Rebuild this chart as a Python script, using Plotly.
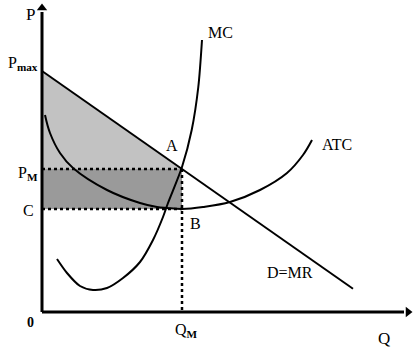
import plotly.graph_objects as go

# Data (economic units, arbitrary scale)
P_MAX = 241
D_SLOPE = 0.7
Q_M = 140
P_M = 143
C_LEVEL = 103
D_Q = [0, 311]
D_P = [P_MAX, P_MAX - D_SLOPE * 311]

ATC_Q = [3, 8, 18, 31, 65, 98, 115, 125, 140, 161, 188, 218, 245, 261, 270]
ATC_P = [197, 179, 159, 144, 122, 109, 105, 104, 103, 105, 110, 122, 139, 157, 172]

MC_Q = [15, 25, 38, 51, 65, 81, 98, 111, 121, 126, 140, 149.7, 156.3, 160]
MC_P = [53, 39, 26, 22, 24, 34, 50, 72, 95, 109, 145, 182, 225, 272]

X_AXIS_END = 366
Y_AXIS_END = 304

SERIF = "Liberation Serif, Times New Roman, serif"

fig = go.Figure()

# Light triangle
fig.add_trace(go.Scatter(x=[0, Q_M, 0, 0], y=[P_MAX, P_M, P_M, P_MAX], fill="toself",
                         fillcolor="#c2c2c2", line=dict(width=0), mode="lines", hoverinfo="skip"))
# Profit rectangle
fig.add_trace(go.Scatter(x=[0, Q_M, Q_M, 0, 0], y=[P_M, P_M, C_LEVEL, C_LEVEL, P_M], fill="toself",
                         fillcolor="#9a9a9a", line=dict(width=0), mode="lines", hoverinfo="skip"))

# Dotted guide lines
dot = dict(color="black", width=2.5, dash="dot")
fig.add_trace(go.Scatter(x=[0, Q_M], y=[P_M, P_M], mode="lines", line=dot))
fig.add_trace(go.Scatter(x=[0, Q_M], y=[C_LEVEL, C_LEVEL], mode="lines", line=dot))
fig.add_trace(go.Scatter(x=[Q_M, Q_M], y=[P_M, 0], mode="lines", line=dot))

# Curves
fig.add_trace(go.Scatter(x=D_Q, y=D_P, mode="lines", line=dict(color="black", width=2)))
fig.add_trace(go.Scatter(x=ATC_Q, y=ATC_P, mode="lines",
                         line=dict(color="black", width=2, shape="spline", smoothing=1)))
fig.add_trace(go.Scatter(x=MC_Q, y=MC_P, mode="lines",
                         line=dict(color="black", width=2, shape="spline", smoothing=0.8)))

# Axes
fig.add_shape(type="line", x0=0, y0=0, x1=0, y1=Y_AXIS_END - 4, xref="x", yref="y",
              line=dict(color="black", width=3))
fig.add_shape(type="line", x0=0, y0=0, x1=X_AXIS_END - 4, y1=0, xref="x", yref="y",
              line=dict(color="black", width=3))
fig.add_trace(go.Scatter(x=[0], y=[Y_AXIS_END], mode="markers",
                         marker=dict(symbol="triangle-up", size=9, color="black"), hoverinfo="skip"))
fig.add_trace(go.Scatter(x=[X_AXIS_END], y=[0], mode="markers",
                         marker=dict(symbol="triangle-right", size=9, color="black"), hoverinfo="skip"))

labels = [
    ("P", -12, 298, 17),
    ("P<sub><b>max</b></sub>", -19, 249, 16),
    ("P<sub><b>M</b></sub>", -14, 139, 16),
    ("C", -14, 102, 16),
    ("A", 130, 167, 16),
    ("B", 153, 89, 16),
    ("MC", 178, 280, 16),
    ("ATC", 295, 168, 16),
    ("D=MR", 248, 40, 16),
    ("<b>0</b>", -12, -10, 14),
    ("Q<sub><b>M</b></sub>", 144, -18, 16),
    ("Q", 342, -26, 17),
]
for txt, x, y, s in labels:
    fig.add_annotation(x=x, y=y, text=txt, showarrow=False, xref="x", yref="y",
                       font=dict(family=SERIF, size=s, color="black"))

fig.update_layout(
    width=415, height=349, margin=dict(l=0, r=0, t=0, b=0),
    paper_bgcolor="white", plot_bgcolor="white", showlegend=False,
    xaxis=dict(range=[-42, 373], visible=False, fixedrange=True),
    yaxis=dict(range=[-37, 312], visible=False, fixedrange=True),
)

fig.write_html("out.html")
